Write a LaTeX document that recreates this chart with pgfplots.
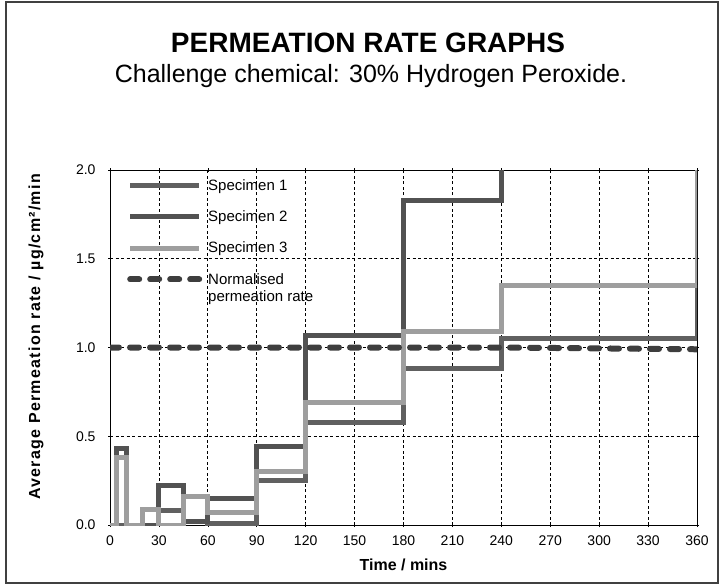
\documentclass[border=0pt]{standalone}
\usepackage{fontspec}
\setmainfont{Liberation Sans}
\newfontfamily\ylabfont[LetterSpace=8]{Liberation Sans}
\usepackage{pgfplots}
\pgfplotsset{compat=1.18}

\definecolor{specone}{RGB}{96,96,96}
\definecolor{spectwo}{RGB}{82,82,82}
\definecolor{specthree}{RGB}{158,158,158}
\definecolor{normline}{RGB}{62,62,62}

\begin{document}
\begin{tikzpicture}
\useasboundingbox (0bp,0bp) rectangle (723bp,-586bp);
\draw[line width=1.2bp, black!75] (6bp,-2bp) rectangle (718bp,-583bp);
\node[font=\fontsize{28bp}{32bp}\selectfont\bfseries] at (368bp,-43bp) {PERMEATION RATE GRAPHS};
\node[font=\fontsize{25bp}{30bp}\selectfont] at (371bp,-76bp) {Challenge chemical: 30\% Hydrogen Peroxide.};

\begin{axis}[
  at={(110bp,-525bp)}, anchor=south west,
  scale only axis, width=587bp, height=355bp,
  xmin=0, xmax=360, ymin=0, ymax=2,
  xtick={0,30,...,360},
  ytick={0,0.5,1,1.5,2},
  yticklabel style={/pgf/number format/fixed, /pgf/number format/precision=1,
    /pgf/number format/fixed zerofill, xshift=-9bp},
  xticklabel style={yshift=-5bp},
  /pgf/number format/assume math mode=true,
  tick label style={font=\fontsize{14bp}{16bp}\selectfont},
  tick align=center, major tick length=4bp,
  tick style={black, line width=0.6bp},
  axis line style={black, line width=0.8bp},
  grid=major,
  major grid style={black, line width=0.7bp, dash pattern=on 3bp off 2.5bp},
  xlabel={\bfseries Time / mins},
  ylabel={\ylabfont\bfseries Average Permeation rate / µg/cm²/min},
  every axis x label/.style={at={(axis description cs:0.5,0)}, anchor=center, yshift=-40bp,
    font=\fontsize{16bp}{18bp}\selectfont},
  every axis y label/.style={at={(axis description cs:0,0.53)}, xshift=-74bp, anchor=center,
    rotate=90, font=\fontsize{16bp}{18bp}\selectfont},
  legend image code/.code={\draw[#1] (0bp,0bp) -- (69bp,0bp);},
  legend cell align=left,
  legend style={at={(axis description cs:0,1)}, anchor=north west, xshift=17bp, yshift=-8bp,
    draw=none, fill=none, inner sep=0pt, row sep=17bp, column sep=5bp,
    nodes={inner sep=1bp}, font=\fontsize{15bp}{16bp}\selectfont},
]
\addplot[const plot mark left, no marks, specone, line width=5bp] coordinates {
  (0,0) (30,0.08) (45,0.02) (60,0.01) (90,0.25) (120,0.575) (180,0.88) (240,1.05) (360,1.35)
};
\addlegendentry{Specimen 1}
\addplot[const plot mark left, no marks, spectwo, line width=5bp] coordinates {
  (0,0) (4,0.43) (10,0) (30,0.225) (45,0.02) (60,0.15) (90,0.445) (120,1.065) (180,1.83) (240,2.5) (360,2.5)
};
\addlegendentry{Specimen 2}
\addplot[const plot mark left, no marks, specthree, line width=5bp] coordinates {
  (0,0) (4,0.38) (10,0) (20,0.085) (30,0) (45,0.16) (60,0.07) (90,0.30) (120,0.69) (180,1.09) (240,1.35) (360,2.5)
};
\addlegendentry{Specimen 3}
\addplot[normline, line width=6bp, line cap=round, dash pattern=on 9bp off 11bp] coordinates {
  (0,1.0) (240,1.0) (360,0.99)
};
\addlegendentry{\raisebox{0pt}[0.72em][0.21em]{\parbox[t]{4cm}{Normalised\\[1.5bp]permeation rate}}}
\end{axis}
\end{tikzpicture}
\end{document}
